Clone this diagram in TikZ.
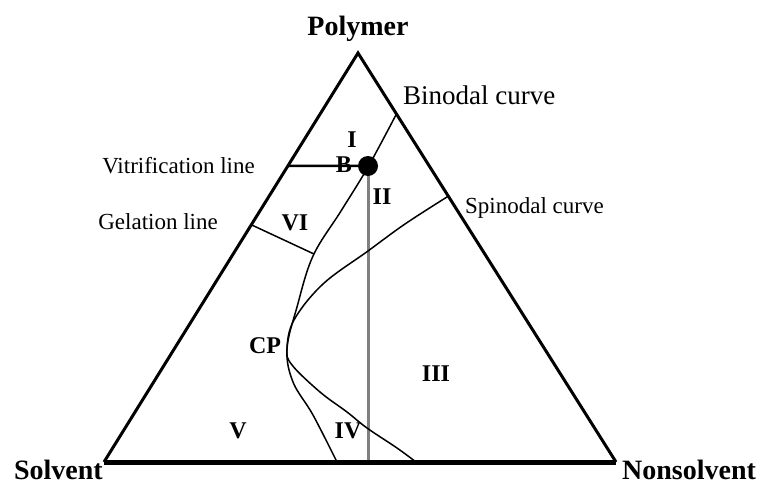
\documentclass[tikz,border=0pt]{standalone}
\usepackage{fontspec}
\setmainfont{Liberation Serif}
\usetikzlibrary{calc}
\tikzset{
  corner/.style={font=\fontsize{28}{30}\selectfont\bfseries, inner sep=0pt},
  region/.style={font=\fontsize{24}{26}\selectfont\bfseries, inner sep=0pt},
  curvelabel/.style={font=\fontsize{23}{25}\selectfont, inner sep=0pt},
}
\begin{document}
\begin{tikzpicture}[x=1pt, y=-1pt]
    \useasboundingbox (0,0) rectangle (766,485);
    \coordinate (P) at (358,53);
    \coordinate (S) at (104,462);
    \coordinate (N) at (616,462);
    \coordinate (B) at (368,166);

    \coordinate (bin0) at ($(P)!0.149!(N)$);
    \coordinate (spi0) at ($(P)!0.350!(N)$);
    \coordinate (vit0) at ($(P)!0.276!(S)$);
    \coordinate (gel0) at ($(P)!0.420!(S)$);
    \coordinate (gel1) at (314,254);

    % composition path
    \draw[black!50, line width=3pt] (B) -- (B |- S);

    % triangle
    \draw[line width=3pt, line join=miter] (S) -- (P) -- (N);
    \draw[line width=5pt] (S) -- (N);

    % curves
    \draw[line width=1.5pt] plot[smooth, tension=0.6] coordinates
        {(bin0) (368,167) (341,211) (313,256) (297,307) (287,349) (293,382) (313,415) (337,462)};
    \draw[line width=1.5pt] plot[smooth, tension=0.6] coordinates
        {(spi0) (405,224) (368,251) (323,284) (294,320) (287,349) (292,365) (320,392) (347,412) (367,428) (397,448) (416,462)};

    \draw[line width=2.5pt] (vit0) -- (B);
    \draw[line width=1.5pt] (gel0) -- (gel1);

    \node[corner, anchor=base] (polymer) at (358,35) {Polymer};
    \node[corner, anchor=base east] (solvent) at (103,479) {Solvent};
    \node[corner, anchor=base west] (nonsolvent) at (622,479) {Nonsolvent};

    \node[font=\fontsize{27}{29}\selectfont, inner sep=0pt, anchor=base west] (binodal) at (403,104) {Binodal curve};
    \node[curvelabel, anchor=base east] (vitri) at (255,173) {Vitrification line};
    \node[curvelabel, anchor=base east] (gelat) at (218,229) {Gelation line};
    \node[curvelabel, anchor=base west] (spinodal) at (465,213) {Spinodal curve};

    \node[region] (rI) at (352,140) {I};
    \node[region] (rB) at (344,165) {B};
    \node[region] (rII) at (382,197) {II};
    \node[region] (rVI) at (295,223) {VI};
    \node[region] (rCP) at (265,346) {CP};
    \node[region] (rIII) at (436,374) {III};
    \node[region] (rV) at (238,431) {V};
    \node[region] (rIV) at (348,431) {IV};

    \fill (B) circle (10);
\end{tikzpicture}
\end{document}
